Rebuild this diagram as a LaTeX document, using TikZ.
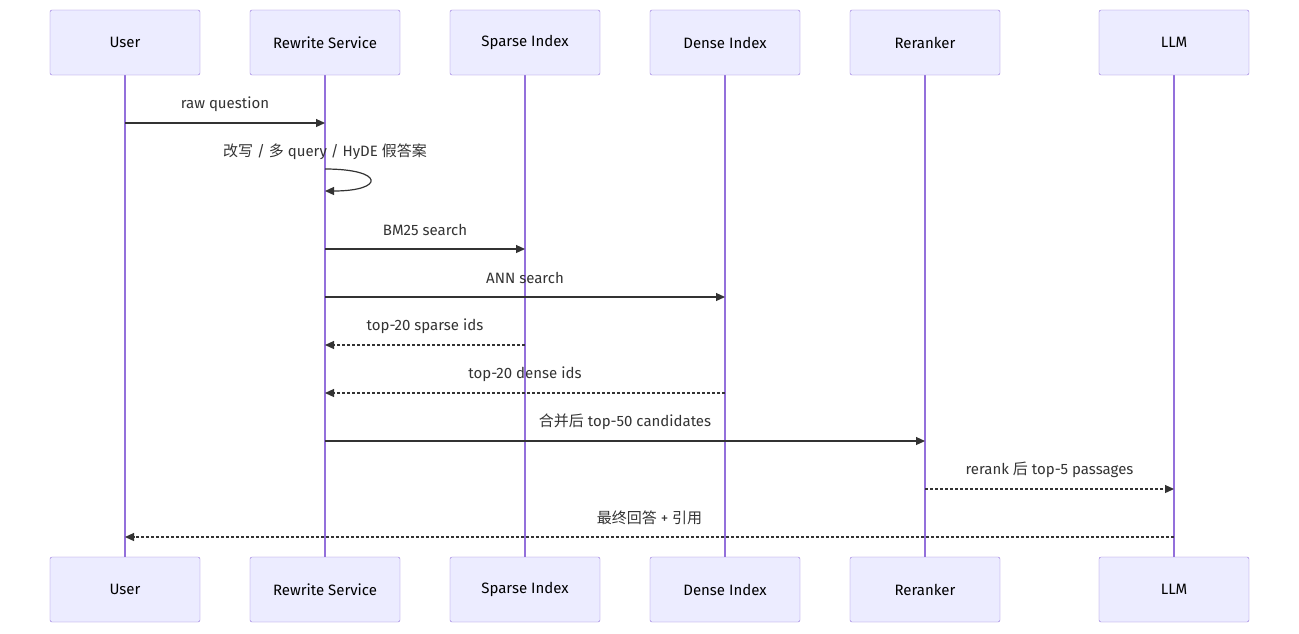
\documentclass[tikz,border=0pt]{standalone}
\usepackage{fontspec}
\setmainfont{Fira Sans}
\newfontfamily\cjk{Noto Sans CJK SC}
\usetikzlibrary{arrows.meta}
\definecolor{actfill}{HTML}{ECECFF}
\definecolor{actline}{HTML}{9370DB}
\definecolor{msgline}{HTML}{333333}
\tikzset{
  actor/.style={draw=actline, fill=actfill, rounded corners=2pt, minimum width=150pt, minimum height=65pt, inner sep=0pt},
  msg/.style={draw=msgline, line width=1.2pt, -{Triangle[length=9pt,width=8pt]}},
  reply/.style={msg, dash pattern=on 3pt off 2pt},
  lbl/.style={text=msgline, inner sep=0pt}
}
\begin{document}
\begin{tikzpicture}[x=1pt,y=-1pt, font=\fontsize{15}{18}\selectfont]
\useasboundingbox (0,0) rectangle (1299,633);
% lifelines and actor boxes
\foreach \n/\x/\t in {user/125/User,rw/325/Rewrite Service,sp/525/Sparse Index,de/725/Dense Index,rr/925/Reranker,llm/1174/LLM}{
\draw[actline, line width=1.2pt] (\x,75) -- (\x,557);
\node[actor] (\n top) at (\x,42.5) {\t};
\node[actor] (\n bot) at (\x,589.5) {\t};
}
% message anchors on the lifelines
\foreach \n/\x in {user/125,rw/325,sp/525,de/725,rr/925,llm/1174}
\foreach \y in {123,169,191,249,297,345,393,441,489,537}
\coordinate (\n\y) at (\x,\y);

\draw[msg] (user123) -- (rw123);
\node[lbl] (m1) at (225,104) {raw question};

\draw[msg] (rw169) .. controls (385,169) and (385,191) .. (rw191);
\node[lbl] (m2) at (325,152) {{\cjk 改写} / {\cjk 多} query / HyDE {\cjk 假答案}};

\draw[msg] (rw249) -- (sp249);
\node[lbl] (m3) at (425,230) {BM25 search};
\draw[msg] (rw297) -- (de297);
\node[lbl] (m4) at (525,278) {ANN search};
\draw[reply] (sp345) -- (rw345);
\node[lbl] (m5) at (425,326) {top-20 sparse ids};
\draw[reply] (de393) -- (rw393);
\node[lbl] (m6) at (525,374) {top-20 dense ids};
\draw[msg] (rw441) -- (rr441);
\node[lbl] (m7) at (625,422) {{\cjk 合并后} top-50 candidates};
\draw[reply] (rr489) -- (llm489);
\node[lbl] (m8) at (1049.5,470) {rerank {\cjk 后} top-5 passages};
\draw[reply] (llm537) -- (user537);
\node[lbl] (m9) at (649.5,518) {{\cjk 最终回答} + {\cjk 引用}};
\end{tikzpicture}
\end{document}
